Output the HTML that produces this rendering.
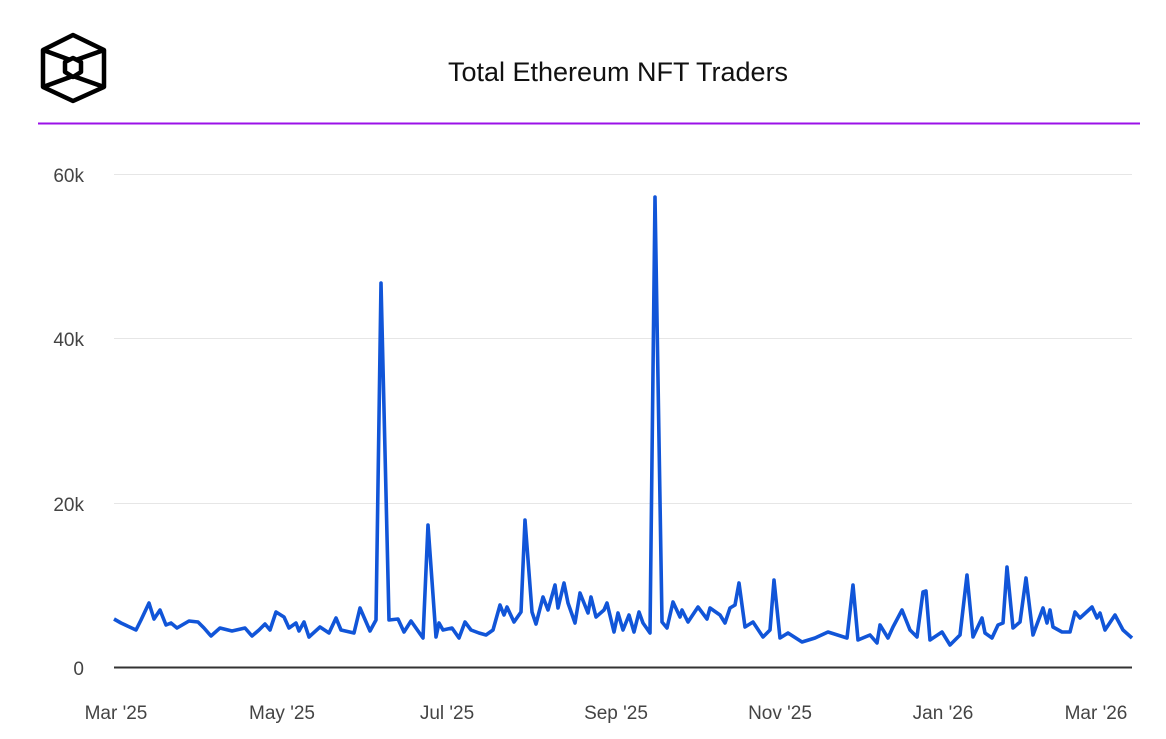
<!DOCTYPE html>
<html><head><meta charset="utf-8"><style>
body{margin:0;background:#fff;}
svg text{font-family:"Liberation Sans",sans-serif;}
</style></head><body>
<svg width="1166" height="734" viewBox="0 0 1166 734" xmlns="http://www.w3.org/2000/svg">
<rect width="1166" height="734" fill="#fff"/>
<g fill="none" stroke="#000" stroke-width="4.5" stroke-linejoin="round">
<polygon points="73,35 104,50 104,87 73,101 43,87 43,50"/>
<polyline points="43,50 73,61 104,50"/>
<polyline points="43,87 73,76 104,87"/>
<polygon points="73,58 81,62 81,72 73,77 65,72 65,62" fill="#fff"/>
</g>
<text x="618" y="81" font-size="27" text-anchor="middle" fill="#111">Total Ethereum NFT Traders</text>
<line x1="38" y1="123.5" x2="1140" y2="123.5" stroke="#9b12e8" stroke-width="2"/>
<g stroke="#e6e6e6" stroke-width="1">
<line x1="114" y1="174.5" x2="1132" y2="174.5"/>
<line x1="114" y1="338.5" x2="1132" y2="338.5"/>
<line x1="114" y1="503.5" x2="1132" y2="503.5"/>
</g>
<line x1="114" y1="667.5" x2="1132" y2="667.5" stroke="#333" stroke-width="2"/>
<g font-size="19" fill="#444" text-anchor="end">
<text x="84" y="182">60k</text><text x="84" y="346">40k</text><text x="84" y="511">20k</text><text x="84" y="675">0</text>
</g>
<g font-size="19" fill="#444" text-anchor="middle">
<text x="116" y="719">Mar '25</text><text x="282" y="719">May '25</text><text x="447" y="719">Jul '25</text><text x="616" y="719">Sep '25</text><text x="780" y="719">Nov '25</text><text x="943" y="719">Jan '26</text><text x="1096" y="719">Mar '26</text>
</g>
<polyline fill="none" stroke="#1155d8" stroke-width="3.6" stroke-linejoin="round" points="114,619 121,623 136,630 141,620 149,603 154,619 160,610 166,625 171,623 177,628 189,621 198,622 204,628 211,636 220,628 232,631 245,628 252,636 259,630 265,624 270,630 276,612 284,617 289,628 296,623 299,631 304,622 309,637 320,627 329,633 336,618 341,630 354,633 360,608 370,631 376,620 381,283 389,620 398,619 404,632 411,621 423,638 428,525 436,637 439,623 443,630 452,628 459,638 465,622 471,630 479,633 486,635 493,630 500,605 504,615 507,607 514,622 521,612 525,520 532,612 536,624 543,597 548,610 555,585 558,608 564,583 568,603 575,623 580,593 588,613 591,597 596,617 604,610 607,603 614,632 618,613 623,630 629,615 634,632 639,612 643,623 650,633 655,197 662,622 667,628 673,602 680,617 682,610 688,622 698,607 707,619 710,608 720,615 725,623 730,608 735,605 739,583 745,627 753,622 763,637 770,630 774,580 780,638 788,633 802,642 815,638 828,632 847,638 853,585 858,640 870,635 877,643 880,625 888,638 893,627 902,610 910,630 917,637 923,592 926,591 930,640 942,632 950,645 960,635 967,575 973,637 982,618 985,633 992,638 998,625 1003,623 1007,567 1013,628 1020,622 1026,578 1033,635 1043,608 1047,623 1050,610 1053,627 1062,632 1070,632 1075,612 1080,618 1092,607 1097,618 1100,613 1105,630 1115,615 1123,630 1132,638"/>
</svg>
</body></html>
